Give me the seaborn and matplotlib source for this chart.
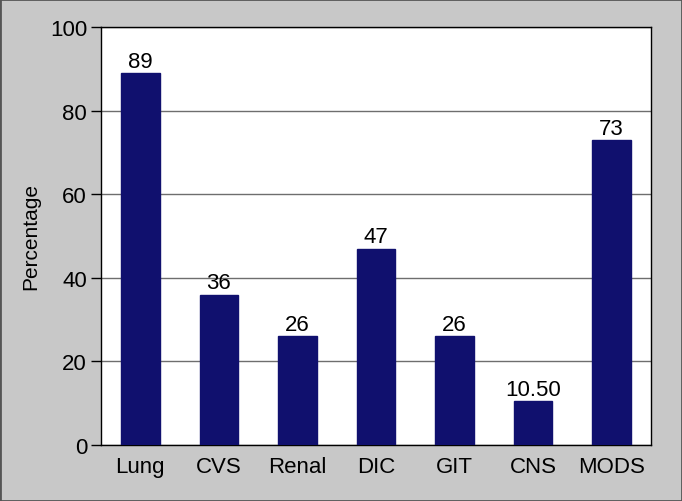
import matplotlib
matplotlib.use("Agg")
import matplotlib.pyplot as plt
import seaborn as sns
import pandas as pd

categories = ["Lung", "CVS", "Renal", "DIC", "GIT", "CNS", "MODS"]
values = [89, 36, 26, 47, 26, 10.5, 73]
labels = ["89", "36", "26", "47", "26", "10.50", "73"]
yticks = [0, 20, 40, 60, 80, 100]

sns.set_style("white")
plt.rcParams["font.family"] = ["Liberation Sans", "DejaVu Sans"]
plt.rcParams["text.color"] = "black"
plt.rcParams["xtick.color"] = "black"
plt.rcParams["ytick.color"] = "black"
plt.rcParams["axes.labelcolor"] = "black"

df = pd.DataFrame({"cat": categories, "val": values})

fig = plt.figure(figsize=(6.82, 5.02), dpi=100, facecolor="#C8C8C8")
fig.patches.append(plt.Rectangle((0, 0), 1, 1, transform=fig.transFigure,
                                 fill=False, edgecolor="#555555", linewidth=2, zorder=10))
ax = fig.add_axes([101 / 682, 1 - 446 / 502, 550 / 682, 418 / 502])
sns.barplot(data=df, x="cat", y="val", color="#10106E", width=0.49,
            saturation=1, ax=ax, zorder=3)
for p in ax.patches:
    p.set_edgecolor("#10106E")

for i, (v, t) in enumerate(zip(values, labels)):
    ax.text(i, v + 0.3, t, ha="center", va="bottom", fontsize=16, color="black")

ax.set_ylim(0, 100)
ax.set_xlim(-0.5, 6.5)
ax.set_yticks(yticks)
ax.set_yticklabels([str(t) for t in yticks], fontsize=16)
ax.tick_params(axis="y", direction="out", length=7, width=1, color="black", pad=3, left=True)
ax.tick_params(axis="x", length=0, labelsize=16, pad=8)
ax.yaxis.grid(True, color="#6E6E6E", linewidth=1, zorder=0)
ax.set_axisbelow(True)
ax.set_xlabel("")
ax.set_ylabel("Percentage", fontsize=15, labelpad=7)
for s in ax.spines.values():
    s.set_visible(True)
    s.set_color("black")
    s.set_linewidth(1)
ax.set_facecolor("white")

fig.savefig("out.png", dpi=100, facecolor=fig.get_facecolor())
